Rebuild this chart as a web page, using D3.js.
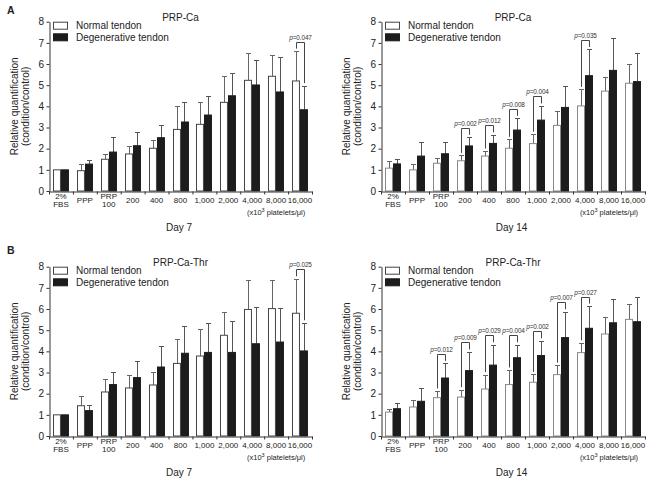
<!DOCTYPE html>
<html>
<head>
<meta charset="utf-8">
<script src="https://cdn.jsdelivr.net/npm/d3@7"></script>
<style>
  html, body { margin: 0; padding: 0; background: #fff; }
  svg { display: block; font-family: "Liberation Sans", Arial, sans-serif; }
</style>
</head>
<body>
<svg id="chart" width="652" height="481"></svg>
<script>
// ---------- DATA ----------
const categories = [["2%", "FBS"], ["PPP"], ["PRP", "100"], ["200"], ["400"], ["800"], ["1,000"], ["2,000"], ["4,000"], ["8,000"], ["16,000"]];
const yTicks = [0, 1, 2, 3, 4, 5, 6, 7, 8];
const seriesNames = ["Normal tendon", "Degenerative tendon"];

// A: Day 7, PRP-Ca
const d7CaNormal    = [1.00, 0.96, 1.50, 1.75, 2.02, 2.91, 3.15, 4.19, 5.23, 5.42, 5.20];
const d7CaNormalSD  = [0.00, 0.30, 0.23, 0.38, 0.39, 1.09, 1.07, 1.26, 1.27, 1.02, 1.41];
const d7CaDegen     = [1.00, 1.27, 1.84, 2.14, 2.52, 3.26, 3.59, 4.50, 5.01, 4.68, 3.84];
const d7CaDegenSD   = [0.00, 0.18, 0.73, 0.63, 0.58, 0.93, 0.88, 1.07, 1.16, 1.67, 1.14];
const d7CaP         = [[10, "0.047"]];

// A: Day 14, PRP-Ca
const d14CaNormal   = [1.08, 1.00, 1.31, 1.43, 1.65, 2.02, 2.24, 3.10, 4.02, 4.72, 5.09];
const d14CaNormalSD = [0.34, 0.27, 0.26, 0.25, 0.24, 0.42, 0.44, 0.68, 0.78, 0.67, 0.90];
const d14CaDegen    = [1.28, 1.65, 1.76, 2.13, 2.25, 2.88, 3.35, 3.95, 5.45, 5.70, 5.17];
const d14CaDegenSD  = [0.24, 0.68, 0.57, 0.41, 0.41, 0.55, 0.67, 0.99, 1.24, 1.55, 1.35];
const d14CaP        = [[3, "0.002"], [4, "0.012"], [5, "0.008"], [6, "0.004"], [8, "0.035"]];

// B: Day 7, PRP-Ca-Thr
const d7ThrNormal   = [1.00, 1.43, 2.08, 2.27, 2.41, 3.43, 3.78, 4.76, 5.98, 6.02, 5.80];
const d7ThrNormalSD = [0.00, 0.46, 0.60, 0.60, 0.60, 1.17, 1.29, 1.08, 1.41, 1.37, 1.63];
const d7ThrDegen    = [1.00, 1.20, 2.43, 2.76, 3.26, 3.91, 3.95, 3.95, 4.36, 4.44, 4.02];
const d7ThrDegenSD  = [0.00, 0.28, 0.59, 0.80, 0.99, 1.29, 1.37, 1.47, 1.75, 1.61, 1.33];
const d7ThrP        = [[10, "0.025"]];

// B: Day 14, PRP-Ca-Thr
const d14ThrNormal   = [1.13, 1.37, 1.81, 1.84, 2.22, 2.43, 2.54, 2.90, 3.94, 4.82, 5.51];
const d14ThrNormalSD = [0.14, 0.33, 0.32, 0.35, 0.68, 0.69, 0.37, 0.45, 0.47, 0.82, 0.71];
const d14ThrDegen    = [1.29, 1.64, 2.74, 3.09, 3.35, 3.70, 3.80, 4.65, 5.09, 5.35, 5.40];
const d14ThrDegenSD  = [0.25, 0.64, 0.69, 0.88, 0.96, 0.61, 0.70, 1.22, 1.05, 1.14, 1.18];
const d14ThrP        = [[2, "0.012"], [3, "0.009"], [4, "0.029"], [5, "0.004"], [6, "0.002"], [7, "0.007"], [8, "0.027"]];

// ---------- DRAW ----------
const svg = d3.select("#chart");
const TXT = "#222";

function drawPanel(cfg) {
  const { x0, x1, yTop, yBot, title, day, normal, normalSD, degen, degenSD, pvals, normalStroke } = cfg;
  const g = svg.append("g");
  const x = d3.scaleBand().domain(d3.range(categories.length)).range([x0, x1]).padding(0);
  const xb = d3.scaleLinear().domain([0, categories.length]).range([x0, x1]);
  const bw = x.bandwidth();
  const xs = d3.scaleBand().domain([0, 1]).range([4, bw - 4]).padding(0);
  const y = d3.scaleLinear().domain([0, 8]).range([yBot, yTop]);

  const rows = categories.map((c, i) => [
    { i, s: 0, v: normal[i], sd: normalSD[i] },
    { i, s: 1, v: degen[i], sd: degenSD[i] }
  ]).flat();

  // error bars
  const eb = g.append("g");
  rows.filter(d => d.sd > 0).forEach(d => {
    const cx = Math.round(x(d.i) + xs(d.s) + xs.bandwidth() / 2) + 0.5;
    const yt = Math.round(y(d.v + d.sd)) + 0.5;
    const col = d.s === 0 ? "#666" : "#555";
    eb.append("line").attr("x1", cx).attr("x2", cx).attr("y1", y(d.v)).attr("y2", yt)
      .attr("stroke", col).attr("stroke-width", 1);
    eb.append("line").attr("x1", cx - 2.5).attr("x2", cx + 2.5).attr("y1", yt).attr("y2", yt)
      .attr("stroke", col).attr("stroke-width", 1);
  });

  // bars
  g.append("g").selectAll("rect").data(rows).join("rect")
    .attr("x", d => Math.round(x(d.i) + xs(d.s)) + 0.5)
    .attr("y", d => y(d.v))
    .attr("width", xs.bandwidth() - 1)
    .attr("height", d => y(0) - y(d.v))
    .attr("fill", d => d.s === 0 ? "#fff" : "#1c1c1c")
    .attr("stroke", d => d.s === 0 ? normalStroke : "#1c1c1c")
    .attr("stroke-width", 1);

  // significance brackets
  const br = g.append("g");
  pvals.forEach(([i, p]) => {
    const lx = Math.round(x(i) + xs(0) + xs.bandwidth() / 2) + 0.5;
    const rx = Math.round(x(i) + xs(1) + xs.bandwidth() / 2) + 0.5;
    const tN = y(normal[i] + normalSD[i]);
    const tD = y(degen[i] + degenSD[i]);
    const by = Math.round(Math.min(tN, tD) - 9.5) + 0.5;
    br.append("path")
      .attr("d", `M${lx},${tN - 2.5}V${by}H${rx}V${tD - 2.5}`)
      .attr("fill", "none").attr("stroke", "#444").attr("stroke-width", 1);
    const t = br.append("text").attr("x", (lx + rx) / 2).attr("y", by - 2.5)
      .attr("text-anchor", "middle").attr("font-size", 6.4).attr("letter-spacing", -0.1).attr("fill", "#333");
    t.append("tspan").attr("font-style", "italic").text("p");
    t.append("tspan").text("=" + p);
  });

  // y axis
  const ya = g.append("g").attr("transform", `translate(${x0 + 0.5},0)`)
    .call(d3.axisLeft(y).tickValues(yTicks).tickSize(3).tickSizeOuter(0).tickPadding(2.5).tickFormat(d3.format("d")));
  ya.selectAll("text").attr("font-size", 10).attr("fill", TXT).attr("font-family", null);
  ya.selectAll("line, path").attr("stroke", "#333");

  // x axis with boundary ticks
  const xa = g.append("g").attr("transform", `translate(0,${yBot + 0.5})`)
    .call(d3.axisBottom(xb).tickValues(d3.range(categories.length + 1)).tickSize(3).tickSizeOuter(0).tickFormat(""));
  xa.selectAll("line, path").attr("stroke", "#333");

  // category labels
  const cl = g.append("g").attr("font-size", 8).attr("fill", TXT).attr("text-anchor", "middle");
  categories.forEach((c, i) => {
    const cx = x(i) + bw / 2;
    if (c.length === 1) {
      cl.append("text").attr("x", cx).attr("y", yBot + 12).text(c[0]);
    } else {
      cl.append("text").attr("x", cx).attr("y", yBot + 7.6).text(c[0]);
      cl.append("text").attr("x", cx).attr("y", yBot + 16).text(c[1]);
    }
  });
  const un = g.append("text").attr("x", x(9) + bw / 2).attr("y", yBot + 24)
    .attr("text-anchor", "middle").attr("font-size", 7.5).attr("fill", TXT);
  un.append("tspan").text("(x10");
  un.append("tspan").attr("dy", -3).attr("font-size", 5.5).text("3");
  un.append("tspan").attr("dy", 3).text(" platelets/\u03bcl)");

  // day label
  g.append("text").attr("x", (x0 + x1) / 2 - 1.5).attr("y", yBot + 39.5)
    .attr("text-anchor", "middle").attr("font-size", 10).attr("fill", TXT).text(day);

  // title
  g.append("text").attr("x", (x0 + x1) / 2).attr("y", yTop - 1)
    .attr("text-anchor", "middle").attr("font-size", 10).attr("fill", TXT).text(title);

  // y label
  const ymid = (yTop + yBot) / 2;
  g.append("text").attr("transform", `translate(${x0 - 31},${ymid}) rotate(-90)`)
    .attr("text-anchor", "middle").attr("font-size", 10).attr("fill", TXT).text("Relative quantification");
  g.append("text").attr("transform", `translate(${x0 - 20},${ymid}) rotate(-90)`)
    .attr("text-anchor", "middle").attr("font-size", 10).attr("fill", TXT).text("(condition/control)");

  // legend
  const lg = g.append("g");
  seriesNames.forEach((n, k) => {
    const ly = yTop + k * 11.6;
    lg.append("rect").attr("x", x0 + 4.5).attr("y", ly + 0.5).attr("width", 14).attr("height", 7)
      .attr("fill", k === 0 ? "#fff" : "#1c1c1c").attr("stroke", k === 0 ? "#444" : "#1c1c1c");
    lg.append("text").attr("x", x0 + 27).attr("y", ly + 7.5).attr("font-size", 10).attr("fill", TXT).text(n);
  });
}

drawPanel({ x0: 49, x1: 312, yTop: 21.7, yBot: 191, title: "PRP-Ca", day: "Day 7",
  normal: d7CaNormal, normalSD: d7CaNormalSD, degen: d7CaDegen, degenSD: d7CaDegenSD, pvals: d7CaP, normalStroke: "#444" });
drawPanel({ x0: 381, x1: 645, yTop: 21.7, yBot: 191, title: "PRP-Ca", day: "Day 14",
  normal: d14CaNormal, normalSD: d14CaNormalSD, degen: d14CaDegen, degenSD: d14CaDegenSD, pvals: d14CaP, normalStroke: "#888" });
drawPanel({ x0: 49, x1: 312, yTop: 266.7, yBot: 436, title: "PRP-Ca-Thr", day: "Day 7",
  normal: d7ThrNormal, normalSD: d7ThrNormalSD, degen: d7ThrDegen, degenSD: d7ThrDegenSD, pvals: d7ThrP, normalStroke: "#444" });
drawPanel({ x0: 381, x1: 645, yTop: 266.7, yBot: 436, title: "PRP-Ca-Thr", day: "Day 14",
  normal: d14ThrNormal, normalSD: d14ThrNormalSD, degen: d14ThrDegen, degenSD: d14ThrDegenSD, pvals: d14ThrP, normalStroke: "#888" });

// panel letters
svg.append("text").attr("x", 7).attr("y", 14).attr("font-size", 10.5).attr("font-weight", "bold").attr("fill", TXT).text("A");
svg.append("text").attr("x", 7).attr("y", 253.5).attr("font-size", 10.5).attr("font-weight", "bold").attr("fill", TXT).text("B");
</script>
</body>
</html>
